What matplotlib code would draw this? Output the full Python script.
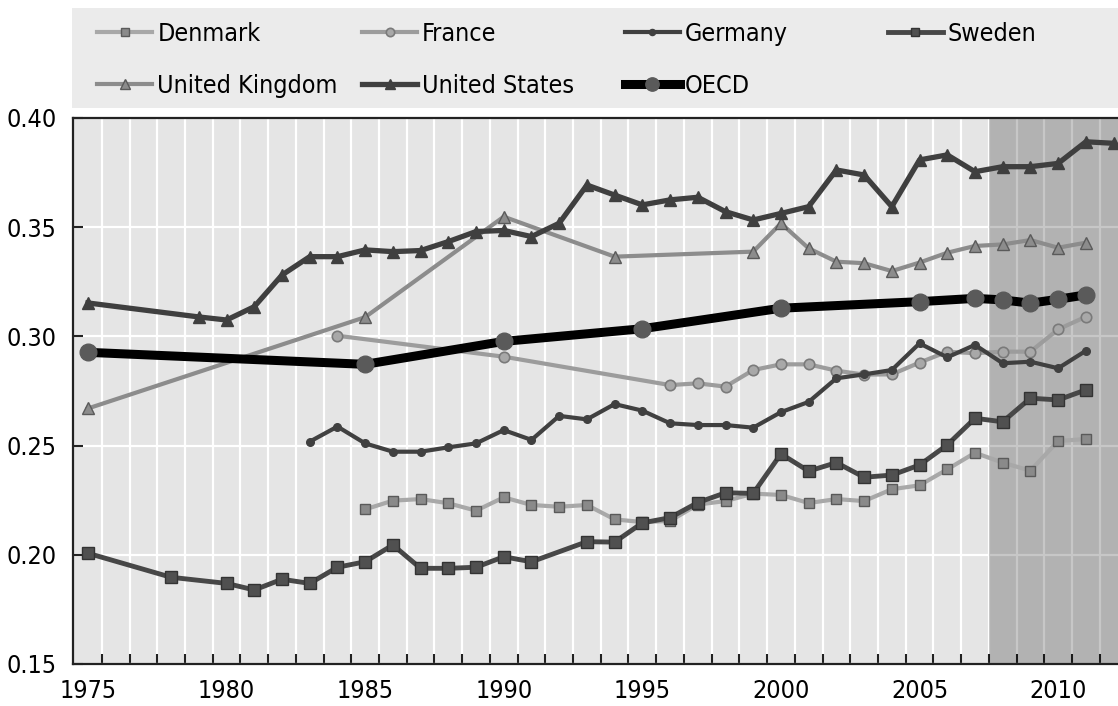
import matplotlib
matplotlib.use("Agg")
import matplotlib.pyplot as plt
from matplotlib.patches import Rectangle

plt.rcParams['font.family'] = ['Liberation Sans Narrow', 'DejaVu Sans']
plt.rcParams['font.stretch'] = 'condensed'

# Gini coefficients
dk_years = [1985, 1986, 1987, 1988, 1989, 1990, 1991, 1992, 1993, 1994, 1995, 1996, 1997, 1998,
            1999, 2000, 2001, 2002, 2003, 2004, 2005, 2006, 2007, 2008, 2009, 2010, 2011]
dk_vals = [0.2208, 0.2248, 0.2255, 0.2236, 0.2202, 0.2263, 0.2228, 0.2220, 0.2228, 0.2162, 0.2150,
           0.2155, 0.2230, 0.2246, 0.2280, 0.2274, 0.2237, 0.2255, 0.2246, 0.2300, 0.2318, 0.2391,
           0.2467, 0.2422, 0.2385, 0.2521, 0.2530]

fr_years = [1984, 1990, 1996, 1997, 1998, 1999, 2000, 2001, 2002, 2003, 2004, 2005, 2006, 2007,
            2008, 2009, 2010, 2011]
fr_vals = [0.3003, 0.2907, 0.2777, 0.2785, 0.2770, 0.2846, 0.2872, 0.2872, 0.2843, 0.2825, 0.2826,
           0.2880, 0.2930, 0.2923, 0.2930, 0.2930, 0.3032, 0.3090]

de_years = [1983, 1984, 1985, 1986, 1987, 1988, 1989, 1990, 1991, 1992, 1993, 1994, 1995, 1996,
            1997, 1998, 1999, 2000, 2001, 2002, 2003, 2004, 2005, 2006, 2007, 2008, 2009, 2010, 2011]
de_vals = [0.2518, 0.2587, 0.2510, 0.2472, 0.2472, 0.2492, 0.2510, 0.2571, 0.2526, 0.2636, 0.2620,
           0.2690, 0.2660, 0.2602, 0.2594, 0.2594, 0.2582, 0.2653, 0.2700, 0.2808, 0.2826, 0.2846,
           0.2968, 0.2904, 0.2961, 0.2877, 0.2884, 0.2854, 0.2934]

se_years = [1975, 1978, 1980, 1981, 1982, 1983, 1984, 1985, 1986, 1987, 1988, 1989, 1990, 1991,
            1993, 1994, 1995, 1996, 1997, 1998, 1999, 2000, 2001, 2002, 2003, 2004, 2005, 2006,
            2007, 2008, 2009, 2010, 2011]
se_vals = [0.2007, 0.1897, 0.1869, 0.1839, 0.1888, 0.1869, 0.1943, 0.1968, 0.2045, 0.1938, 0.1938,
           0.1943, 0.1991, 0.1968, 0.2060, 0.2058, 0.2146, 0.2170, 0.2239, 0.2284, 0.2281, 0.2462,
           0.2383, 0.2422, 0.2355, 0.2365, 0.2411, 0.2503, 0.2625, 0.2609, 0.2717, 0.2709, 0.2755]

uk_years = [1975, 1985, 1990, 1994, 1999, 2000, 2001, 2002, 2003, 2004, 2005, 2006, 2007, 2008,
            2009, 2010, 2011]
uk_vals = [0.2670, 0.3088, 0.3548, 0.3365, 0.3388, 0.3518, 0.3403, 0.3342, 0.3335, 0.3299, 0.3338,
           0.3383, 0.3414, 0.3421, 0.3441, 0.3406, 0.3429]

us_years = [1975, 1979, 1980, 1981, 1982, 1983, 1984, 1985, 1986, 1987, 1988, 1989, 1990, 1991,
            1992, 1993, 1994, 1995, 1996, 1997, 1998, 1999, 2000, 2001, 2002, 2003, 2004, 2005,
            2006, 2007, 2008, 2009, 2010, 2011, 2012]
us_vals = [0.3153, 0.3089, 0.3075, 0.3136, 0.3281, 0.3365, 0.3365, 0.3396, 0.3388, 0.3393, 0.3434,
           0.3480, 0.3485, 0.3457, 0.3518, 0.3693, 0.3647, 0.3602, 0.3625, 0.3637, 0.3571, 0.3533,
           0.3563, 0.3594, 0.3762, 0.3739, 0.3594, 0.3808, 0.3831, 0.3754, 0.3777, 0.3777, 0.3792,
           0.3891, 0.3884]

oecd_years = [1975, 1985, 1990, 1995, 2000, 2005, 2007, 2008, 2009, 2010, 2011]
oecd_vals = [0.2927, 0.2872, 0.2977, 0.3035, 0.3129, 0.3159, 0.3174, 0.3167, 0.3152, 0.3170, 0.3190]

fig = plt.figure(figsize=(11.18, 7.06), dpi=100)
ax = fig.add_axes([0.0653, 0.0595, 0.9347, 0.7734])
ax.set_facecolor('#e5e5e5')

# shaded recent period
ax.axvspan(2007.5, 2013, color='black', alpha=0.22, lw=0, zorder=1.5)

dk, = ax.plot(dk_years, dk_vals, color='#a8a8a8', lw=3.0, marker='s', ms=7.5,
              mfc='#8a8a8a', mec='#5a5a5a', mew=1, zorder=3, label='Denmark')
fr, = ax.plot(fr_years, fr_vals, color='#9c9c9c', lw=3.0, marker='o', ms=7.5,
              mfc='#a8a8a8', mec='#7a7a7a', mew=1.2, zorder=3, label='France')
de, = ax.plot(de_years, de_vals, color='#404040', lw=3.0, marker='o', ms=5.5,
              mfc='#404040', mec='#404040', zorder=4, label='Germany')
se, = ax.plot(se_years, se_vals, color='#474747', lw=3.5, marker='s', ms=8,
              mfc='#505050', mec='#333333', zorder=4, label='Sweden')
uk, = ax.plot(uk_years, uk_vals, color='#8c8c8c', lw=3.0, marker='^', ms=8.5,
              mfc='#8c8c8c', mec='#5a5a5a', zorder=3, label='United Kingdom')
us, = ax.plot(us_years, us_vals, color='#3f3f3f', lw=3.8, marker='^', ms=8.5,
              mfc='#3f3f3f', mec='#3f3f3f', zorder=4, label='United States')
oecd, = ax.plot(oecd_years, oecd_vals, color='black', lw=6.5, marker='o', ms=12,
                mfc='#5a5a5a', mec='#5a5a5a', zorder=5, label='OECD')

ax.set_xlim(1974.46, 2012.16)
ax.set_ylim(0.15, 0.40)

ax.set_xticks(range(1975, 2011, 5))
ax.set_xticks([y + 0.5 for y in range(1975, 2012)], minor=True)
ax.set_yticks([0.15, 0.20, 0.25, 0.30, 0.35, 0.40])
ax.set_yticklabels(['0.15', '0.20', '0.25', '0.30', '0.35', '0.40'])
ax.tick_params(axis='x', which='major', length=0, pad=11, labelsize=18)
ax.tick_params(axis='x', which='minor', direction='in', length=7, width=1.5, color='#222222')
ax.tick_params(axis='y', which='major', direction='in', length=7, width=1.5, pad=12,
               labelsize=18, color='#222222')

ax.grid(axis='x', which='minor', color='white', lw=1.6, zorder=1)
ax.grid(axis='y', which='major', color='white', lw=1.6, zorder=1)
ax.set_axisbelow(True)

for s in ['left', 'bottom', 'top']:
    ax.spines[s].set_color('#222222')
    ax.spines[s].set_linewidth(1.6)
ax.spines['right'].set_visible(False)

# legend panel
fig.patches.append(Rectangle((0.0644, 0.847), 0.94, 0.1416, transform=fig.transFigure,
                             facecolor='#ebebeb', edgecolor='none', zorder=0))

columns = [[dk, uk], [fr, us], [de, oecd], [se]]
col_x = [0.087, 0.324, 0.559, 0.794]
for handles, x0 in zip(columns, col_x):
    fig.legend(handles=handles, loc='upper left', bbox_to_anchor=(x0, 0.969),
               frameon=False, fontsize=18, handlelength=2.2, handletextpad=0.2,
               labelspacing=1.12, borderpad=0, borderaxespad=0, markerscale=0.8)

fig.savefig('out.png', dpi=100)
